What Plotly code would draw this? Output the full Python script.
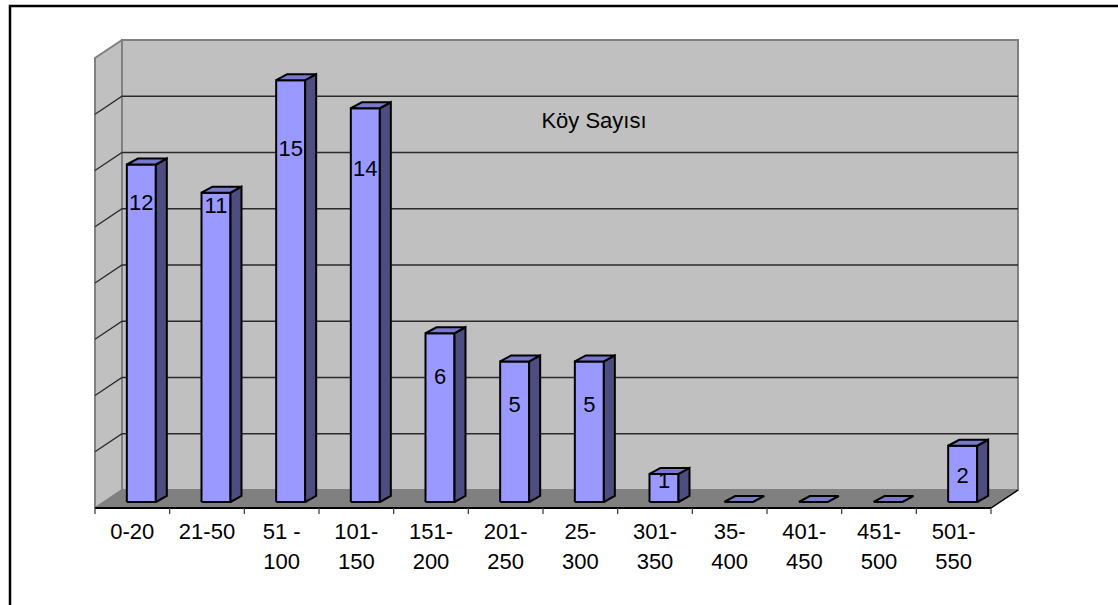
import plotly.graph_objects as go

# ---- data ----
CATEGORIES = ["0-20", "21-50", "51 -<br>100", "101-<br>150", "151-<br>200", "201-<br>250",
              "25-<br>300", "301-<br>350", "35-<br>400", "401-<br>450", "451-<br>500", "501-<br>550"]
VALUES = [12, 11, 15, 14, 6, 5, 5, 1, 0, 0, 0, 2]
SERIES_NAME = "Köy Sayısı"
GRID_TICKS = [2, 4, 6, 8, 10, 12, 14, 16]
Y_MAX = 16

# label heights inside bars (value units, as placed by the original 3D renderer)
LABEL_Y = [10.8, 10.7, 12.7, 12.0, 4.6, 3.6, 3.6, 0.9, None, None, None, 1.1]

# ---- geometry / style ----
W, H = 1118, 605
PX_X = 74.667            # px per category
PX_Y = 28.125            # px per value unit
X0 = -0.5 - 95 / PX_X
X1 = X0 + W / PX_X
Y1 = 508 / PX_Y
Y0 = -(H - 508) / PX_Y

DXF, DYF = 27 / PX_X, 18 / PX_Y      # floor depth vector
BDX, BDY = 11 / PX_X, 6 / PX_Y       # bar depth vector
BOFF_X, BOFF_Y = DXF / 3, DYF / 3    # bar front offset
HALF_W = 14.5 / PX_X

FONT = "Liberation Sans, Arial, sans-serif"
FS = 22
FRONT = "#9999FF"
SIDE = "#4D4D80"
TOP = "#7878CC"
WALL = "#C0C0C0"
FLOOR = "#808080"
EDGE = "#808080"

n = len(CATEGORIES)
left, right = -0.5, n - 0.5

fig = go.Figure()


def poly(xs, ys, fill, line_color, line_width, name=""):
    fig.add_trace(go.Scatter(x=xs, y=ys, mode="lines", fill="toself", fillcolor=fill,
                             line=dict(color=line_color, width=line_width),
                             hoverinfo="skip", showlegend=False, name=name))


def lines(xs, ys, color, width):
    fig.add_trace(go.Scatter(x=xs, y=ys, mode="lines", line=dict(color=color, width=width),
                             hoverinfo="skip", showlegend=False))


# back wall
poly([left + DXF, right + DXF, right + DXF, left + DXF, left + DXF],
     [DYF, DYF, Y_MAX + DYF, Y_MAX + DYF, DYF], WALL, EDGE, 2)
# left wall
poly([left, left + DXF, left + DXF, left, left],
     [0, DYF, Y_MAX + DYF, Y_MAX, 0], WALL, EDGE, 2)
# floor
poly([left, right, right + DXF, left + DXF, left],
     [0, 0, DYF, DYF, 0], FLOOR, FLOOR, 1)
lines([right, right + DXF], [0, DYF], "#000000", 1.5)

# grid lines
gx, gy = [], []
for t in GRID_TICKS:
    if t >= Y_MAX:
        continue
    gx += [left, left + DXF, right + DXF, None]
    gy += [t, t + DYF, t + DYF, None]
lines(gx, gy, "#2a2a2a", 1.3)

# bars
bx = [i + BOFF_X for i in range(n)]
fx, fy, sx, sy, tx, ty = [], [], [], [], [], []
for i, v in enumerate(VALUES):
    xl, xr = bx[i] - HALF_W, bx[i] + HALF_W
    b = BOFF_Y
    if v > 0:
        fx += [xl, xr, xr, xl, xl, None]
        fy += [b, b, b + v, b + v, b, None]
        sx += [xr, xr + BDX, xr + BDX, xr, xr, None]
        sy += [b, b + BDY, b + v + BDY, b + v, b, None]
    tx += [xl, xr, xr + BDX, xl + BDX, xl, None]
    ty += [b + v, b + v, b + v + BDY, b + v + BDY, b + v, None]
poly(fx, fy, FRONT, "#000000", 2, SERIES_NAME)
poly(sx, sy, SIDE, "#000000", 2)
poly(tx, ty, TOP, "#000000", 2)

# x axis line and ticks
lines([left, right], [0, 0], "#000000", 2)
tkx, tky = [], []
for k in range(n + 1):
    tkx += [left + k, left + k, None]
    tky += [0, -6 / PX_Y, None]
lines(tkx, tky, "#444444", 1.3)

# data labels
lx = [bx[i] for i in range(n) if LABEL_Y[i] is not None]
ly = [LABEL_Y[i] for i in range(n) if LABEL_Y[i] is not None]
lt = [str(VALUES[i]) for i in range(n) if LABEL_Y[i] is not None]
fig.add_trace(go.Scatter(x=lx, y=ly, mode="text", text=lt, textposition="middle center",
                         textfont=dict(family=FONT, size=FS, color="#000000"),
                         hoverinfo="skip", showlegend=False))

# category labels (two lines placed separately)
l1 = [c.split("<br>")[0] for c in CATEGORIES]
l2 = [c.split("<br>")[1] if "<br>" in c else "" for c in CATEGORIES]
fig.add_trace(go.Scatter(x=list(range(n)), y=[(508 - 533) / PX_Y] * n, mode="text", text=l1,
                         textposition="middle center",
                         textfont=dict(family=FONT, size=FS, color="#000000"),
                         hoverinfo="skip", showlegend=False))
fig.add_trace(go.Scatter(x=list(range(n)), y=[(508 - 563) / PX_Y] * n, mode="text", text=l2,
                         textposition="middle center",
                         textfont=dict(family=FONT, size=FS, color="#000000"),
                         hoverinfo="skip", showlegend=False))

fig.update_layout(
    width=W, height=H,
    margin=dict(l=0, r=0, t=0, b=0),
    paper_bgcolor="#FFFFFF", plot_bgcolor="#FFFFFF",
    xaxis=dict(range=[X0, X1], visible=False, fixedrange=True),
    yaxis=dict(range=[Y0, Y1], visible=False, fixedrange=True),
    showlegend=False,
    title=dict(text=SERIES_NAME, x=594 / W, y=1 - 120 / H, xanchor="center", yanchor="middle",
               font=dict(family=FONT, size=FS, color="#000000")),
    shapes=[dict(type="rect", xref="paper", yref="paper", x0=10 / W, x1=1.02,
                 y0=-0.02, y1=1 - 6 / H, line=dict(color="#000000", width=2.5),
                 fillcolor="rgba(0,0,0,0)", layer="above")],
)

fig.write_html("out.html", config={"displayModeBar": False},
               post_script="document.body.style.margin='0';document.body.style.overflow='hidden';")
